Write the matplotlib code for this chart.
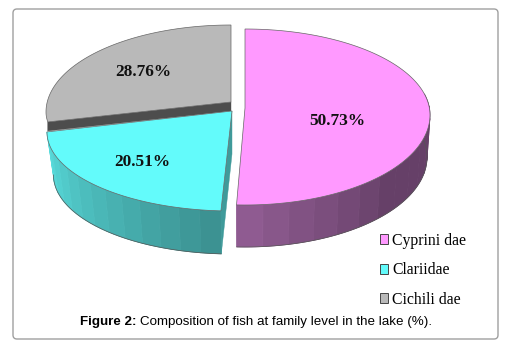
#!/usr/bin/env python3

import numpy as np
import matplotlib
matplotlib.use('Agg')
import matplotlib.pyplot as plt
from matplotlib.colors import to_rgb
from matplotlib.patches import FancyBboxPatch, Patch

legend_names = ['Cyprini dae', 'Clariidae', 'Cichili dae']
shares = [50.73, 20.51, 28.76]
top_colors = ['#ff99ff', '#63fbfb', '#b9b9b9']
side_light = ['#8f5b91', '#58dcdc', '#4d4d4d']
side_dark = ['#664068', '#3c9292', '#4d4d4d']
cut_colors = ['#8f5b91', '#3f9a9a', '#4d4d4d']

# slice geometry in picture pixels: apex, ellipse centre y, radii
apex = [(245, 108), (232, 111), (231, 102)]
centre_y = [115, 132, 112]
rad_x = [185, 185, 185]
rad_back = [86, 86, 87]
rad_front = [90, 79, 72]
depth = [42, 43, 9]
shrink = [0.984, 0.965, 1.0]
# the perspective of the original moves the slice edges a little (degrees)
skew_start = [0, 0.8, 5.6]
skew_end = [0, 13.6, 0]
label_pos = [(337, 121), (142, 162), (143, 72)]

fig = plt.figure(figsize=(5.13, 3.49), dpi=100)
ax = fig.add_axes([0, 0, 1, 1])
ax.set_xlim(0, 513)
ax.set_ylim(349, 0)
ax.axis('off')

ax.add_patch(FancyBboxPatch((13, 9), 485, 330, boxstyle='round,pad=0,rounding_size=4',
                            fc='white', ec='#a0a0a0', lw=1.0))


def rim(i, theta, lowered=False):
    # theta is clockwise from the top of the pie
    r = np.where(np.cos(theta) > 0, rad_back[i], rad_front[i])
    a = rad_x[i] * (shrink[i] if lowered else 1)
    x = apex[i][0] + a * np.sin(theta)
    y = centre_y[i] - r * np.cos(theta)
    if lowered:
        y = y + depth[i]
    return x, y


edges = np.cumsum([0] + shares) * 3.6

# back to front: grey first, then pink, then cyan
for i in [2, 0, 1]:
    t0 = np.radians(edges[i] + skew_start[i])
    t1 = np.radians(edges[i + 1] + skew_end[i])
    theta = np.linspace(t0, t1, 160)
    x, y = rim(i, theta)

    # outer wall, split in strips for the stepped shading
    front = theta[np.abs(theta - np.pi) < np.pi / 2 + 0.25]
    if i != 2 and len(front) > 1:
        strips = np.linspace(front[0], front[-1], 14)
        for k in range(len(strips) - 1):
            s = np.linspace(strips[k], strips[k + 1], 8)
            xa, ya = rim(i, s)
            xb, yb = rim(i, s, lowered=True)
            if i == 0:
                f = min(1, max(0, (k - 6) / 6))
                c = np.array(to_rgb(side_dark[i])) * (1 - f) + np.array(to_rgb(side_light[i])) * f
            else:
                f = 1 - k / 12
                c = np.array(to_rgb(side_light[i])) * (1 - f) + np.array(to_rgb(side_dark[i])) * f
            ax.fill(np.r_[xa, xb[::-1]], np.r_[ya, yb[::-1]], fc=c, ec=c, lw=0.6, zorder=2 + i)
        xb, yb = rim(i, front, lowered=True)
        ax.plot(xb, yb, color='#555555', lw=0.5, zorder=3 + i)

    # cut faces
    ax_, ay_ = apex[i]
    if i == 1:
        xe, ye = rim(i, np.array([t0]))
        xl, yl = rim(i, np.array([t0]), lowered=True)
        ax.fill([ax_, xe[0], xl[0], ax_], [ay_, ye[0], yl[0], ay_ + depth[i]],
                fc=cut_colors[i], ec=cut_colors[i], lw=0.3, zorder=4)
    if i == 2:
        xe, ye = rim(i, np.array([t0]))
        ax.fill([ax_, xe[0], xe[0], ax_], [ay_, ye[0], ye[0] + depth[i], ay_ + depth[i]],
                fc=cut_colors[i], ec=cut_colors[i], lw=0.3, zorder=3)

    ax.fill(np.r_[ax_, x], np.r_[ay_, y], fc=top_colors[i], ec='#666666', lw=0.5,
            zorder=5 + i if i != 2 else 4)
    ax.text(label_pos[i][0], label_pos[i][1], f'{shares[i]:.2f}%', ha='center', va='center',
            family='Liberation Serif', fontweight='bold', fontsize=12.4, color='#111111', zorder=9)

handles = [Patch(fc=top_colors[i], ec='#444444', lw=0.7, label=legend_names[i]) for i in range(3)]
ax.legend(handles=handles, loc='upper left', bbox_to_anchor=(380 / 513, 1 - 233 / 349), frameon=False,
          prop={'family': 'Liberation Serif', 'size': 11.3}, handlelength=0.52, handleheight=0.6,
          handletextpad=0.26, labelspacing=0.86, borderpad=0, borderaxespad=0)

cap1 = ax.text(80, 322.5, 'Figure 2:', family='Liberation Sans', fontweight='bold', fontsize=9.6,
               va='center', color='black')
fig.canvas.draw()
box = cap1.get_window_extent()
ax.text(box.x1 + 3, 322.5, 'Composition of fish at family level in the lake (%).', family='Liberation Sans',
        fontsize=9.6, va='center', color='black')

fig.savefig('out.png', dpi=100)
